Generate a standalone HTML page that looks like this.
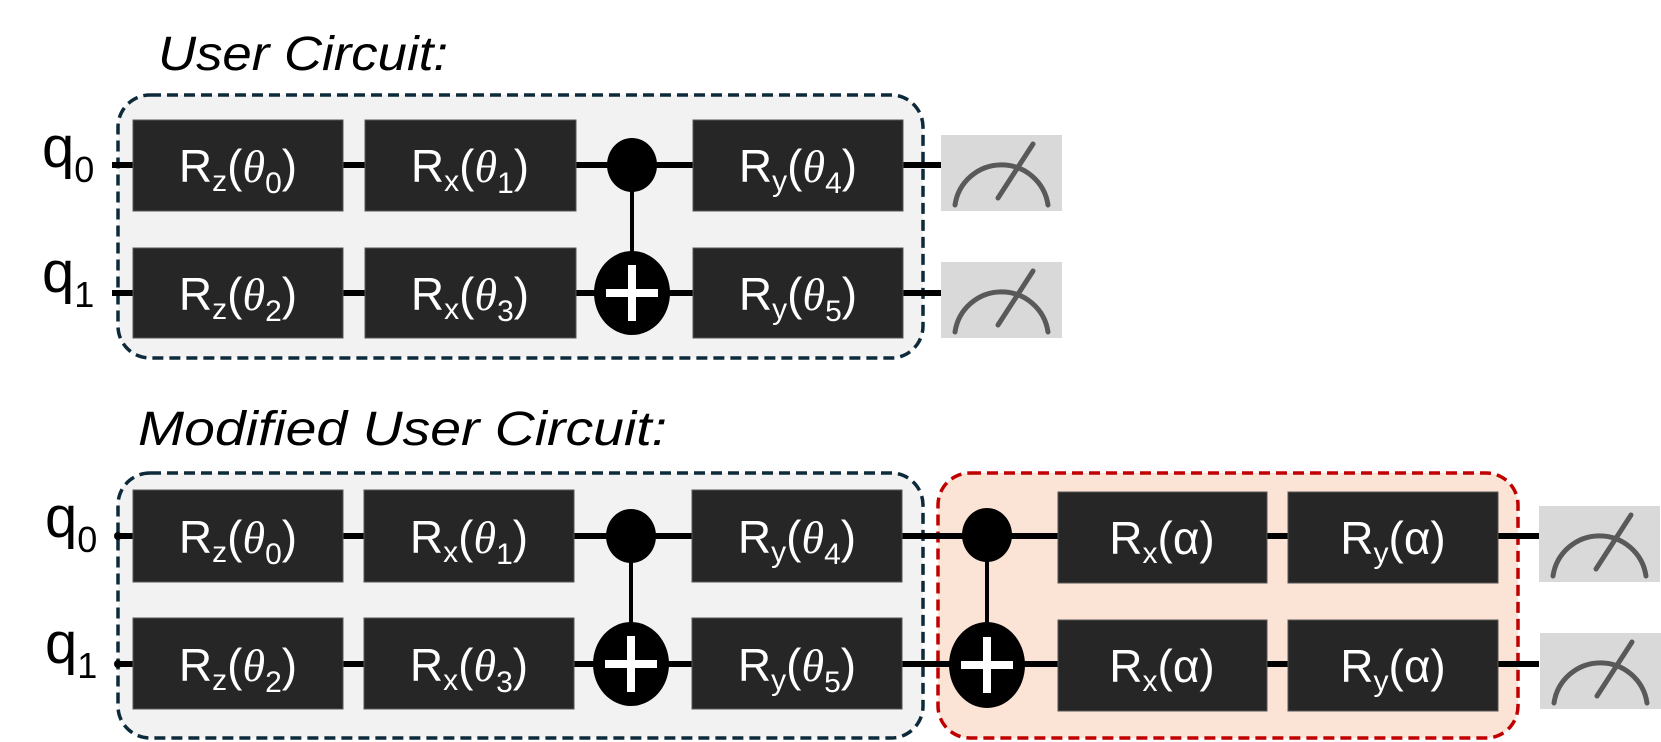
<!DOCTYPE html>
<html><head><meta charset="utf-8"><style>
html,body{margin:0;padding:0;background:#fff;}
svg{display:block;}
.g{fill:#262626;stroke:#555;stroke-width:1;}
.t{font-family:"Liberation Sans",sans-serif;font-size:46px;fill:#fff;}
.th{font-family:"Liberation Serif",serif;font-style:italic;}
.w{stroke:#000;stroke-width:6;}
.v{stroke:#000;stroke-width:4;}
.q{font-family:"Liberation Sans",sans-serif;font-size:58px;fill:#000;}
.ti{font-family:"Liberation Sans",sans-serif;font-style:italic;font-size:48px;fill:#000;}
.m{fill:none;stroke:#595959;stroke-width:5;stroke-linecap:round;}
</style></head><body>
<svg width="1661" height="742" viewBox="0 0 1661 742" xmlns="http://www.w3.org/2000/svg">
<defs>
<g id="meas">
<rect x="0" y="0" width="121" height="76" fill="#d9d9d9"/>
<path class="m" d="M14,70 A47,47 0 0 1 107,70"/>
<line class="m" x1="57" y1="63" x2="92" y2="9"/>
</g>
</defs>

<text class="ti" x="158" y="70" textLength="290" lengthAdjust="spacingAndGlyphs">User Circuit:</text>
<text class="ti" x="138" y="445" textLength="529" lengthAdjust="spacingAndGlyphs">Modified User Circuit:</text>

<!-- TOP -->
<rect x="118" y="95" width="805" height="263" rx="32" fill="#f2f2f2" stroke="#0d2a3a" stroke-width="3.5" stroke-dasharray="11 6"/>
<line class="w" x1="112" y1="165" x2="941" y2="165"/>
<line class="w" x1="112" y1="293" x2="941" y2="293"/>
<text class="q" x="42" y="167">q<tspan font-size="36" dy="15">0</tspan></text>
<text class="q" x="42" y="292">q<tspan font-size="36" dy="15">1</tspan></text>

<rect class="g" x="133" y="120" width="210" height="91"/>
<rect class="g" x="365" y="120" width="211" height="91"/>
<rect class="g" x="693" y="120" width="210" height="91"/>
<rect class="g" x="133" y="248" width="210" height="90"/>
<rect class="g" x="365" y="248" width="211" height="90"/>
<rect class="g" x="693" y="248" width="210" height="90"/>
<text class="t" x="238" y="182" text-anchor="middle">R<tspan font-size="30" dy="9">z</tspan><tspan dy="-9">(</tspan><tspan class="th">θ</tspan><tspan font-size="30" dy="11">0</tspan><tspan dy="-11">)</tspan></text>
<text class="t" x="470" y="182" text-anchor="middle">R<tspan font-size="30" dy="9">x</tspan><tspan dy="-9">(</tspan><tspan class="th">θ</tspan><tspan font-size="30" dy="11">1</tspan><tspan dy="-11">)</tspan></text>
<text class="t" x="798" y="182" text-anchor="middle">R<tspan font-size="30" dy="9">y</tspan><tspan dy="-9">(</tspan><tspan class="th">θ</tspan><tspan font-size="30" dy="11">4</tspan><tspan dy="-11">)</tspan></text>
<text class="t" x="238" y="310" text-anchor="middle">R<tspan font-size="30" dy="9">z</tspan><tspan dy="-9">(</tspan><tspan class="th">θ</tspan><tspan font-size="30" dy="11">2</tspan><tspan dy="-11">)</tspan></text>
<text class="t" x="470" y="310" text-anchor="middle">R<tspan font-size="30" dy="9">x</tspan><tspan dy="-9">(</tspan><tspan class="th">θ</tspan><tspan font-size="30" dy="11">3</tspan><tspan dy="-11">)</tspan></text>
<text class="t" x="798" y="310" text-anchor="middle">R<tspan font-size="30" dy="9">y</tspan><tspan dy="-9">(</tspan><tspan class="th">θ</tspan><tspan font-size="30" dy="11">5</tspan><tspan dy="-11">)</tspan></text>

<line class="v" x1="632" y1="165" x2="632" y2="293"/>
<ellipse cx="632" cy="165" rx="25" ry="27" fill="#000"/>
<ellipse cx="632" cy="293" rx="38" ry="42" fill="#000"/>
<rect x="606" y="289" width="52" height="8" fill="#fff"/>
<rect x="628" y="265" width="8" height="56" fill="#fff"/>

<use href="#meas" x="941" y="135"/>
<use href="#meas" x="941" y="262"/>

<!-- BOTTOM -->
<rect x="118" y="473" width="805" height="265" rx="32" fill="#f2f2f2" stroke="#0d2a3a" stroke-width="3.5" stroke-dasharray="11 6"/>
<rect x="938" y="473" width="580" height="265" rx="32" fill="#fbe3d6" stroke="#c00000" stroke-width="3.5" stroke-dasharray="11 6"/>
<line class="w" x1="115" y1="536" x2="1539" y2="536"/>
<line class="w" x1="115" y1="664" x2="1539" y2="664"/>
<circle cx="118" cy="536" r="4" fill="#000"/>
<circle cx="118" cy="664" r="4" fill="#000"/>
<text class="q" x="45" y="537">q<tspan font-size="36" dy="15">0</tspan></text>
<text class="q" x="45" y="663">q<tspan font-size="36" dy="15">1</tspan></text>

<rect class="g" x="133" y="490" width="210" height="92"/>
<rect class="g" x="364" y="490" width="210" height="92"/>
<rect class="g" x="692" y="490" width="210" height="92"/>
<rect class="g" x="133" y="618" width="210" height="91"/>
<rect class="g" x="364" y="618" width="210" height="91"/>
<rect class="g" x="692" y="618" width="210" height="91"/>
<text class="t" x="238" y="553" text-anchor="middle">R<tspan font-size="30" dy="9">z</tspan><tspan dy="-9">(</tspan><tspan class="th">θ</tspan><tspan font-size="30" dy="11">0</tspan><tspan dy="-11">)</tspan></text>
<text class="t" x="469" y="553" text-anchor="middle">R<tspan font-size="30" dy="9">x</tspan><tspan dy="-9">(</tspan><tspan class="th">θ</tspan><tspan font-size="30" dy="11">1</tspan><tspan dy="-11">)</tspan></text>
<text class="t" x="797" y="553" text-anchor="middle">R<tspan font-size="30" dy="9">y</tspan><tspan dy="-9">(</tspan><tspan class="th">θ</tspan><tspan font-size="30" dy="11">4</tspan><tspan dy="-11">)</tspan></text>
<text class="t" x="238" y="681" text-anchor="middle">R<tspan font-size="30" dy="9">z</tspan><tspan dy="-9">(</tspan><tspan class="th">θ</tspan><tspan font-size="30" dy="11">2</tspan><tspan dy="-11">)</tspan></text>
<text class="t" x="469" y="681" text-anchor="middle">R<tspan font-size="30" dy="9">x</tspan><tspan dy="-9">(</tspan><tspan class="th">θ</tspan><tspan font-size="30" dy="11">3</tspan><tspan dy="-11">)</tspan></text>
<text class="t" x="797" y="681" text-anchor="middle">R<tspan font-size="30" dy="9">y</tspan><tspan dy="-9">(</tspan><tspan class="th">θ</tspan><tspan font-size="30" dy="11">5</tspan><tspan dy="-11">)</tspan></text>

<line class="v" x1="631" y1="536" x2="631" y2="664"/>
<ellipse cx="631" cy="536" rx="25" ry="27" fill="#000"/>
<ellipse cx="631" cy="664" rx="38" ry="42" fill="#000"/>
<rect x="605" y="660" width="52" height="8" fill="#fff"/>
<rect x="627" y="636" width="8" height="56" fill="#fff"/>

<line class="v" x1="987" y1="536" x2="987" y2="664"/>
<ellipse cx="987" cy="535" rx="25" ry="27" fill="#000"/>
<ellipse cx="987" cy="665" rx="38" ry="43" fill="#000"/>
<rect x="961" y="661" width="52" height="8" fill="#fff"/>
<rect x="983" y="637" width="8" height="56" fill="#fff"/>

<rect class="g" x="1058" y="492" width="209" height="91"/>
<rect class="g" x="1288" y="492" width="210" height="91"/>
<rect class="g" x="1058" y="620" width="209" height="91"/>
<rect class="g" x="1288" y="620" width="210" height="91"/>
<text class="t" x="1162" y="554" text-anchor="middle">R<tspan font-size="30" dy="9">x</tspan><tspan dy="-9">(α)</tspan></text>
<text class="t" x="1393" y="554" text-anchor="middle">R<tspan font-size="30" dy="9">y</tspan><tspan dy="-9">(α)</tspan></text>
<text class="t" x="1162" y="682" text-anchor="middle">R<tspan font-size="30" dy="9">x</tspan><tspan dy="-9">(α)</tspan></text>
<text class="t" x="1393" y="682" text-anchor="middle">R<tspan font-size="30" dy="9">y</tspan><tspan dy="-9">(α)</tspan></text>

<use href="#meas" x="1539" y="506"/>
<use href="#meas" x="1540" y="633"/>
</svg>
</body></html>
